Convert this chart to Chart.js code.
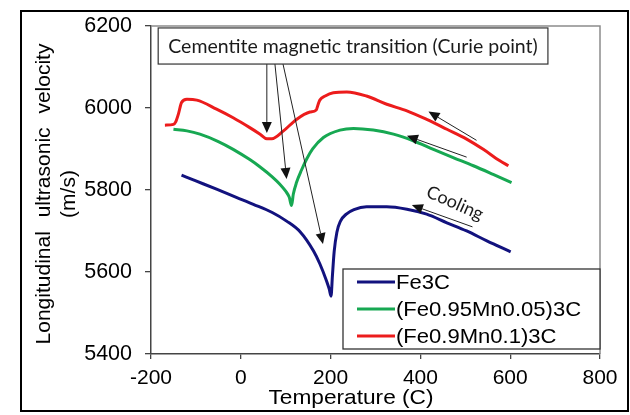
<!DOCTYPE html>
<html>
<head>
<meta charset="utf-8">
<script src="https://cdn.jsdelivr.net/npm/chart.js@4.4.1/dist/chart.umd.min.js"></script>
<style>
  html, body { margin: 0; padding: 0; background: #fff; }
  #c { display: block; }
</style>
</head>
<body>
<canvas id="c" width="630" height="415"></canvas>
<script>
// ---- data ----
const seriesLabels = ['Fe3C', '(Fe0.95Mn0.05)3C', '(Fe0.9Mn0.1)3C'];

const tempFe3C = [-132, -100, -54, -10, 28, 70, 102, 132, 162, 176, 191, 197, 201, 204, 208, 214, 222, 235, 252, 280, 325, 370, 414, 459, 503, 548, 601];
const velFe3C  = [5836, 5822, 5802, 5782, 5765, 5745, 5724, 5698, 5651, 5620, 5578, 5558, 5541, 5590, 5650, 5697, 5724, 5741, 5752, 5759, 5759, 5753, 5741, 5720, 5700, 5676, 5649];

const tempMn005 = [-150, -120, -91, -50, -17, 20, 43, 70, 87, 100, 108, 113, 117, 124, 135, 147, 160, 184, 221, 251, 295, 340, 384, 429, 473, 518, 562, 603];
const velMn005  = [5948, 5944, 5936, 5918, 5899, 5874, 5856, 5832, 5814, 5797, 5782, 5762, 5790, 5818, 5848, 5876, 5900, 5928, 5946, 5950, 5946, 5936, 5920, 5899, 5879, 5859, 5838, 5818];

const tempMn01 = [-169, -150, -145, -139, -132, -120, -98, -54, -17, 20, 43, 58, 69, 95, 124, 154, 168, 172, 176, 188, 206, 236, 280, 325, 370, 414, 459, 503, 540, 577, 596];
const velMn01  = [5958, 5960, 5966, 5985, 6013, 6021, 6019, 5997, 5976, 5952, 5936, 5925, 5925, 5944, 5972, 5990, 5995, 6008, 6019, 6029, 6037, 6039, 6029, 6009, 5993, 5972, 5948, 5924, 5899, 5871, 5859];

const xTicks = [-200, 0, 200, 400, 600, 800];
const yTicks = [5400, 5600, 5800, 6000, 6200];

// ---- annotation texts ----
const curieText = 'Cementite magnetic transition (Curie point)';
const coolingText = 'Cooling';
const xTitle = 'Temperature (C)';
const yTitle = ['Longitudinal ultrasonic velocity', '(m/s)'];

const colors = ['#12127e', '#17a852', '#ec1c1c'];

function pts(t, v) { return t.map((x, i) => ({ x: x, y: v[i] })); }

const FONT = '"Liberation Sans", Arial, sans-serif';
const CAL = 'Lato, "Open Sans", sans-serif';

function arrow(ctx, x1, y1, x2, y2, L, W) {
  const a = Math.atan2(y2 - y1, x2 - x1);
  const bx = x2 - L * Math.cos(a), by = y2 - L * Math.sin(a);
  ctx.beginPath();
  ctx.moveTo(x1, y1);
  ctx.lineTo(bx, by);
  ctx.stroke();
  ctx.beginPath();
  ctx.moveTo(x2, y2);
  ctx.lineTo(bx + W * Math.sin(a), by - W * Math.cos(a));
  ctx.lineTo(bx - W * Math.sin(a), by + W * Math.cos(a));
  ctx.closePath();
  ctx.fill();
}

function stretchedText(ctx, text, x, y, sx) {
  ctx.save();
  ctx.translate(x, y);
  ctx.scale(sx, 1);
  ctx.fillText(text, 0, 0);
  ctx.restore();
}

const decor = {
  id: 'decor',
  afterDatasetsDraw(chart) {
    const ctx = chart.ctx;
    const xs = chart.scales.x, ys = chart.scales.y;
    const ca = chart.chartArea;
    const X = v => xs.getPixelForValue(v), Y = v => ys.getPixelForValue(v);
    ctx.save();

    // plot border (top / right)
    ctx.strokeStyle = '#8c8c8c';
    ctx.lineWidth = 1.5;
    ctx.beginPath();
    ctx.moveTo(ca.left, ca.top);
    ctx.lineTo(ca.right, ca.top);
    ctx.lineTo(ca.right, ca.bottom);
    ctx.stroke();

    // Curie annotation arrows
    ctx.strokeStyle = '#222';
    ctx.fillStyle = '#111';
    ctx.lineWidth = 1;
    const curieArrows = [[58, 6107, 58, 5939], [76, 6107, 102, 5827], [94, 6107, 183, 5668]];
    curieArrows.forEach(a => arrow(ctx, X(a[0]), Y(a[1]), X(a[2]), Y(a[3]), 11, 5));

    // Curie box
    const bx1 = X(-184), bx2 = X(684), by1 = Y(6195), by2 = Y(6107);
    ctx.fillStyle = '#fff';
    ctx.fillRect(bx1, by1, bx2 - bx1, by2 - by1);
    ctx.strokeStyle = '#333';
    ctx.lineWidth = 1.2;
    ctx.strokeRect(bx1, by1, bx2 - bx1, by2 - by1);
    ctx.fillStyle = '#1a1a1a';
    ctx.font = '19.5px ' + CAL;
    ctx.textAlign = 'center';
    ctx.textBaseline = 'middle';
    ctx.fillText(curieText, (bx1 + bx2) / 2, (by1 + by2) / 2 + 1);

    // cooling arrows
    ctx.strokeStyle = '#222';
    ctx.fillStyle = '#111';
    ctx.lineWidth = 1;
    const coolArrows = [[525, 5921, 418, 5991], [503, 5880, 370, 5932], [516, 5710, 381, 5763]];
    coolArrows.forEach(a => arrow(ctx, X(a[0]), Y(a[1]), X(a[2]), Y(a[3]), 11, 5));

    // cooling text
    ctx.save();
    ctx.translate(X(477), Y(5768));
    ctx.rotate(24 * Math.PI / 180);
    ctx.font = '18px ' + CAL;
    ctx.fillStyle = '#1a1a1a';
    ctx.textAlign = 'center';
    ctx.textBaseline = 'middle';
    ctx.fillText(coolingText, 0, 0);
    ctx.restore();

    // legend
    const lx1 = ca.left + 192, lx2 = ca.right, ly1 = ca.bottom - 85, ly2 = ca.bottom - 5;
    ctx.fillStyle = '#fff';
    ctx.fillRect(lx1, ly1, lx2 - lx1, ly2 - ly1);
    ctx.strokeStyle = '#333';
    ctx.lineWidth = 1.3;
    ctx.strokeRect(lx1, ly1, lx2 - lx1, ly2 - ly1);
    ctx.font = '21px ' + FONT;
    ctx.textAlign = 'left';
    ctx.textBaseline = 'middle';
    chart.data.datasets.forEach((ds, i) => {
      const yy = ly1 + 13 + i * 27;
      ctx.strokeStyle = ds.borderColor;
      ctx.lineWidth = 3;
      ctx.beginPath();
      ctx.moveTo(lx1 + 14, yy);
      ctx.lineTo(lx1 + 52, yy);
      ctx.stroke();
      ctx.fillStyle = '#000';
      stretchedText(ctx, ds.label, lx1 + 53, yy + 1, 1.05);
    });

    // axis titles
    ctx.fillStyle = '#000';
    ctx.font = '21px ' + FONT;
    ctx.textAlign = 'center';
    ctx.textBaseline = 'alphabetic';
    stretchedText(ctx, xTitle, 351, 404, 1.08);

    ctx.save();
    ctx.translate(50, 194);
    ctx.rotate(-Math.PI / 2);
    ctx.wordSpacing = '8px';
    ctx.fillText(yTitle[0], 0, 0);
    ctx.wordSpacing = '0px';
    ctx.restore();
    ctx.save();
    ctx.translate(75, 194);
    ctx.rotate(-Math.PI / 2);
    ctx.fillText(yTitle[1], 0, 0);
    ctx.restore();

    // outer frame
    ctx.strokeStyle = '#000';
    ctx.lineWidth = 2;
    ctx.strokeRect(21, 11, 607, 400);

    ctx.restore();
  }
};

const datasets = [
  { label: seriesLabels[0], data: pts(tempFe3C, velFe3C), borderColor: colors[0] },
  { label: seriesLabels[1], data: pts(tempMn005, velMn005), borderColor: colors[1] },
  { label: seriesLabels[2], data: pts(tempMn01, velMn01), borderColor: colors[2] }
].map(d => Object.assign(d, {
  showLine: true, pointRadius: 0, borderWidth: 3, fill: false,
  cubicInterpolationMode: 'monotone', backgroundColor: d.borderColor
}));

new Chart(document.getElementById('c'), {
  type: 'scatter',
  data: { datasets: datasets },
  options: {
    responsive: false,
    animation: false,
    devicePixelRatio: 1,
    layout: { padding: { top: 25, right: 30, left: 0, bottom: 0 } },
    plugins: { legend: { display: false }, tooltip: { enabled: false } },
    scales: {
      x: {
        type: 'linear', min: xTicks[0], max: xTicks[xTicks.length - 1],
        afterBuildTicks: s => { s.ticks = xTicks.map(v => ({ value: v })); },
        afterFit: s => { s.height = 61; },
        ticks: { font: { size: 21, family: FONT }, color: '#000', padding: 7, maxRotation: 0, callback: v => String(v) },
        grid: { drawOnChartArea: false, drawTicks: true, tickLength: 5, color: '#444', lineWidth: 1.3 },
        border: { color: '#444', width: 1.5 }
      },
      y: {
        type: 'linear', min: yTicks[0], max: yTicks[yTicks.length - 1],
        afterBuildTicks: s => { s.ticks = yTicks.map(v => ({ value: v })); },
        afterFit: s => { s.width = 151; },
        ticks: { font: { size: 21.5, family: FONT }, color: '#000', padding: 13, callback: v => String(v) },
        grid: { drawOnChartArea: false, drawTicks: true, tickLength: 6, color: '#444', lineWidth: 1.3 },
        border: { color: '#444', width: 1.5 }
      }
    }
  },
  plugins: [decor]
});
</script>
</body>
</html>
